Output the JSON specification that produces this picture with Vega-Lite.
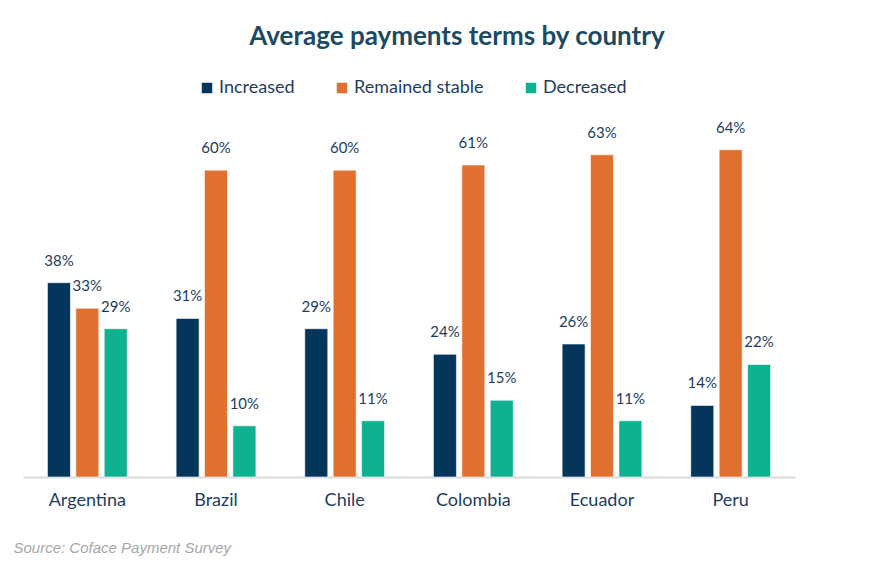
{
  "$schema": "https://vega.github.io/schema/vega-lite/v6.json",
  "autosize": {"type": "none"},
  "padding": {"left": 23, "top": 119, "right": 96, "bottom": 88},
  "width": 772,
  "height": 358,
  "background": "#ffffff",
  "title": {
    "text": "Average payments terms by country",
    "anchor": "middle",
    "dx": 48,
    "offset": 3,
    "baseline": "bottom",
    "font": "Lato",
    "fontSize": 26,
    "fontWeight": "bold",
    "color": "#1c4a63"
  },
  "data": {
    "values": [
      {"country": "Argentina", "trend": "Increased", "share": 0.38},
      {"country": "Argentina", "trend": "Remained stable", "share": 0.33},
      {"country": "Argentina", "trend": "Decreased", "share": 0.29},
      {"country": "Brazil", "trend": "Increased", "share": 0.31},
      {"country": "Brazil", "trend": "Remained stable", "share": 0.60},
      {"country": "Brazil", "trend": "Decreased", "share": 0.10},
      {"country": "Chile", "trend": "Increased", "share": 0.29},
      {"country": "Chile", "trend": "Remained stable", "share": 0.60},
      {"country": "Chile", "trend": "Decreased", "share": 0.11},
      {"country": "Colombia", "trend": "Increased", "share": 0.24},
      {"country": "Colombia", "trend": "Remained stable", "share": 0.61},
      {"country": "Colombia", "trend": "Decreased", "share": 0.15},
      {"country": "Ecuador", "trend": "Increased", "share": 0.26},
      {"country": "Ecuador", "trend": "Remained stable", "share": 0.63},
      {"country": "Ecuador", "trend": "Decreased", "share": 0.11},
      {"country": "Peru", "trend": "Increased", "share": 0.14},
      {"country": "Peru", "trend": "Remained stable", "share": 0.64},
      {"country": "Peru", "trend": "Decreased", "share": 0.22}
    ]
  },
  "encoding": {
    "x": {
      "field": "country",
      "type": "nominal",
      "sort": null,
      "scale": {"paddingInner": 0.38, "paddingOuter": 0.19},
      "axis": {
        "title": "Source: Coface Payment Survey",
        "titleX": -10,
        "titleY": 70,
        "titleAlign": "left",
        "titleAnchor": "start",
        "titleBaseline": "middle",
        "titleFont": "Liberation Sans",
        "titleFontStyle": "italic",
        "titleFontWeight": "normal",
        "titleFontSize": 15,
        "titleColor": "#a6a6a6",
        "labelAngle": 0,
        "labelFont": "Lato",
        "labelFontSize": 18,
        "labelColor": "#1f3c5f",
        "labelPadding": 14,
        "ticks": false,
        "domainColor": "#d9d9d9",
        "domainWidth": 2
      }
    },
    "xOffset": {
      "field": "trend",
      "type": "nominal",
      "sort": ["Increased", "Remained stable", "Decreased"],
      "scale": {"paddingInner": 0.19, "paddingOuter": 0}
    },
    "y": {
      "field": "share",
      "type": "quantitative",
      "scale": {"domain": [0, 0.7]},
      "axis": null
    }
  },
  "layer": [
    {
      "mark": {"type": "bar", "stroke": "#ffffff", "strokeWidth": 0.6},
      "encoding": {
        "color": {
          "field": "trend",
          "type": "nominal",
          "sort": ["Increased", "Remained stable", "Decreased"],
          "scale": {
            "domain": ["Increased", "Remained stable", "Decreased"],
            "range": ["#04355a", "#e0702f", "#0fb190"]
          },
          "legend": {
            "title": null,
            "orient": "none",
            "direction": "horizontal",
            "legendX": 175,
            "legendY": -40,
            "symbolType": "square",
            "symbolSize": 110,
            "symbolStrokeWidth": 0,
            "labelFont": "Lato",
            "labelFontSize": 18,
            "labelColor": "#1f3c5f",
            "labelOffset": 3,
            "columnPadding": 38
          }
        }
      }
    },
    {
      "mark": {
        "type": "text",
        "baseline": "bottom",
        "dy": -14,
        "font": "Lato",
        "fontSize": 15,
        "color": "#1f3c5f"
      },
      "encoding": {
        "text": {"field": "share", "type": "quantitative", "format": ".0%"},
        "detail": {"field": "trend"}
      }
    }
  ],
  "config": {
    "view": {"stroke": null}
  }
}
